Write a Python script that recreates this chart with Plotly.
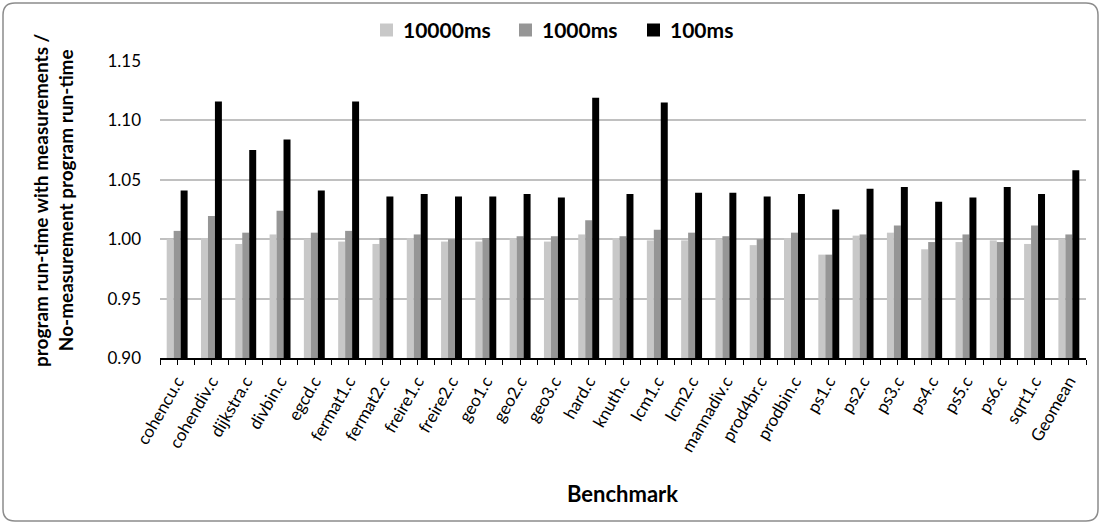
import plotly.graph_objects as go

# Benchmarks and normalised run-times for each measurement interval
benchmarks = ["cohencu.c", "cohendiv.c", "dijkstra.c", "divbin.c", "egcd.c", "fermat1.c",
              "fermat2.c", "freire1.c", "freire2.c", "geo1.c", "geo2.c", "geo3.c", "hard.c",
              "knuth.c", "lcm1.c", "lcm2.c", "mannadiv.c", "prod4br.c", "prodbin.c", "ps1.c",
              "ps2.c", "ps3.c", "ps4.c", "ps5.c", "ps6.c", "sqrt1.c", "Geomean"]

series_names = ["10000ms", "1000ms", "100ms"]

t10000 = [1.000, 1.001, 0.996, 1.004, 1.000, 0.998, 0.996, 1.001, 0.998, 0.998, 1.001, 0.998,
          1.004, 1.001, 0.999, 0.999, 1.000, 0.995, 1.001, 0.987, 1.003, 1.0055, 0.9915,
          0.9976, 0.999, 0.996, 1.000]
t1000 = [1.007, 1.0195, 1.0055, 1.024, 1.0055, 1.007, 1.001, 1.004, 1.000, 1.001, 1.0025,
         1.0025, 1.016, 1.0025, 1.008, 1.0055, 1.0025, 1.000, 1.0055, 0.987, 1.004, 1.0115,
         0.9976, 1.004, 0.9976, 1.0115, 1.004]
t100 = [1.041, 1.116, 1.075, 1.084, 1.041, 1.116, 1.036, 1.038, 1.036, 1.036, 1.038, 1.035,
        1.119, 1.038, 1.115, 1.039, 1.039, 1.036, 1.038, 1.025, 1.0425, 1.044, 1.0315, 1.035,
        1.044, 1.038, 1.058]

y_ticks = [0.90, 0.95, 1.00, 1.05, 1.10, 1.15]

colors = ["#c8c8c8", "#969696", "#000000"]
FONT = "Lato"

W, H = 1102, 525
L, R, T, B = 160, 16, 61, 167
pw, ph = W - L - R, H - T - B

x = list(range(len(benchmarks)))
base = y_ticks[0]


def px_x(p):
    return (p - L) / pw


def px_y(p):
    return (H - B - p) / ph


fig = go.Figure()
for name, vals, col in zip(series_names, [t10000, t1000, t100], colors):
    fig.add_trace(go.Bar(
        x=x, y=[v - base for v in vals], base=base, name=name,
        marker=dict(color=col, line=dict(width=0)), showlegend=False,
    ))

# rounded chart-area frame, expressed in paper units
x0, x1 = px_x(3), px_x(1098)
y0, y1 = px_y(521), px_y(3)
rx, ry = 12 / pw, 12 / ph
frame = (f"M {x0 + rx} {y1} L {x1 - rx} {y1} Q {x1} {y1} {x1} {y1 - ry} "
         f"L {x1} {y0 + ry} Q {x1} {y0} {x1 - rx} {y0} "
         f"L {x0 + rx} {y0} Q {x0} {y0} {x0} {y0 + ry} "
         f"L {x0} {y1 - ry} Q {x0} {y1} {x0 + rx} {y1} Z")
fig.add_shape(type="path", path=frame, xref="paper", yref="paper",
              line=dict(color="#8c8c8c", width=1.5), layer="below")

# legend row above the plot: swatch + bold label per series
legend_left = [380, 519, 647]
legend_cy = 30
sw = 13
for name, col, lx in zip(series_names, colors, legend_left):
    fig.add_shape(type="rect", xref="paper", yref="paper",
                  x0=px_x(lx), x1=px_x(lx + sw),
                  y0=px_y(legend_cy + sw / 2), y1=px_y(legend_cy - sw / 2),
                  fillcolor=col, line=dict(width=0))
    fig.add_annotation(text=f"<b>{name}</b>", xref="paper", yref="paper",
                       x=px_x(lx + sw + 8), y=px_y(legend_cy), xanchor="left",
                       yanchor="middle", showarrow=False,
                       font=dict(family=FONT, size=21, color="#000000"))

fig.add_annotation(
    text="<b>program run-time with measurements /<br>No-measurement program run-time</b>",
    textangle=-90, xref="paper", yref="paper", x=px_x(53), y=px_y(200),
    xanchor="center", yanchor="middle", showarrow=False,
    font=dict(family=FONT, size=19, color="#000000"),
)
fig.add_annotation(
    text="<b>Benchmark</b>", xref="paper", yref="paper", x=px_x(622), y=px_y(493),
    xanchor="center", yanchor="middle", showarrow=False,
    font=dict(family=FONT, size=22, color="#000000"),
)

fig.update_layout(
    width=W, height=H,
    margin=dict(l=L, r=R, t=T, b=B, pad=0),
    paper_bgcolor="white", plot_bgcolor="white",
    barmode="group", bargap=0.39, bargroupgap=0,
    font=dict(family=FONT, size=16, color="#000000"),
    showlegend=False,
    xaxis=dict(
        range=[-0.5, len(benchmarks) - 0.5],
        tickmode="array", tickvals=x, ticktext=benchmarks, tickangle=-60,
        ticks="outside", ticklen=5, tickwidth=1.2, tickcolor="#000000",
        minor=dict(ticks="outside", tick0=0.5, dtick=1, ticklen=5, tickwidth=1.2,
                   tickcolor="#000000"),
        showline=True, linecolor="#000000", linewidth=1.5,
        showgrid=False, zeroline=False,
        tickfont=dict(family=FONT, size=17, color="#000000"),
    ),
    yaxis=dict(
        range=[y_ticks[0], y_ticks[-1]], tickmode="array", tickvals=y_ticks,
        ticktext=[f"{v:.2f}" for v in y_ticks],
        showgrid=True, gridcolor="#c0c0c0", gridwidth=1.5,
        showline=False, zeroline=False, ticks="", ticklabelstandoff=18,
        tickfont=dict(family=FONT, size=17, color="#000000"),
    ),
)

fig.write_html("out.html")
